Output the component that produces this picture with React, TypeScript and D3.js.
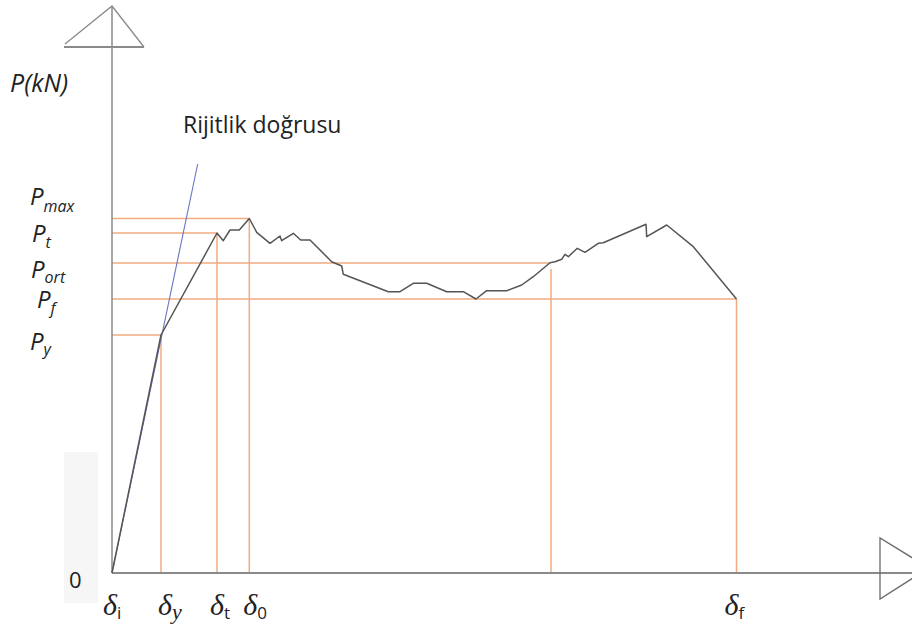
import React from "react";
import * as d3 from "d3";

// Load–displacement curve (displacement in mm, load in kN)
const curveDisp = [
  0, 4.9, 10.5, 11.13, 11.8, 12.73, 13.73, 14.47, 15.8, 16.8, 16.97, 18.13, 18.87, 19.8,
  21.97, 22.97, 23.13, 27.63, 28.8, 30.13, 31.47, 33.47, 35.13, 36.4, 37.47, 39.47, 40.97,
  42.13, 43.8, 44.3, 44.97, 45.3, 45.63, 46.53, 47.3, 48.63, 49.13, 53.4, 53.47, 55.47,
  58.13, 62.45,
];
const curveLoad = [
  0, 23.8, 34.0, 33.23, 34.3, 34.3, 35.45, 34.07, 32.97, 33.7, 33.23, 33.97, 33.3, 33.3,
  31.13, 30.7, 29.87, 28.13, 28.13, 28.97, 28.97, 28.13, 28.13, 27.4, 28.23, 28.23, 28.8,
  29.63, 31.03, 31.13, 31.37, 31.87, 31.63, 32.47, 32.07, 32.97, 33.03, 34.87, 33.63, 34.8,
  32.63, 27.4,
];

// Characteristic load levels and where their guide lines end
const levelNames = ["max", "t", "ort", "f", "y"];
const levelLoads = [35.45, 34.0, 31.0, 27.4, 23.8];
const levelEndDisp = [13.73, 10.5, 43.8, 62.45, 4.9];

// Characteristic displacements and the load where their guide lines stop
const markerNames = ["i", "y", "t", "0", "f"];
const markerDisp = [0, 4.9, 10.5, 13.73, 62.45];
const markerTopLoad = [0, 23.8, 34.0, 35.45, 27.4];

// Extra guide at the mean-load crossing
const extraGuideDisp = [43.9];
const extraGuideTop = [30.4];

// Stiffness line end point
const stiffnessDisp = [0, 8.57];
const stiffnessLoad = [0, 40.9];

const W = 912;
const H = 631;

const x = d3.scaleLinear().domain([0, 80]).range([112, 912]);
const y = d3.scaleLinear().domain([0, 56.7]).range([573, 6]);

const AXIS = "#8a8a8a";
const GUIDE = "#f2ab80";
const CURVE = "#555555";
const BLUE = "#6b73c4";
const TEXT = "#222222";
const SANS = "'Open Sans', 'Noto Sans', sans-serif";
const SERIF = "'Liberation Serif', 'DejaVu Serif', serif";

// Label layout for the load levels (left column)
const levelLabelX = [30, 32, 31, 37, 30];
const levelLabelDy = [-13.5, 9, 15, 9, 15];
const levelSubDy = [7, 6, 5, 6, 5];

// Label layout for the displacement markers (below the axis)
const markerLabelDx = [-9, -3, -7, -6, -12];

export default function App() {
  const pts: [number, number][] = curveDisp.map((d, i) => [x(d), y(curveLoad[i])]);
  const line = d3.line<[number, number]>();
  const x0 = x(0);
  const y0 = y(0);
  const yTop = y(56.7);

  return (
    <svg
      width={W}
      height={H}
      style={{ position: "absolute", left: 0, top: 0, background: "#fff" }}
    >
      {/* backdrop behind the origin label */}
      <rect x={64} y={452} width={34} height={151} fill="#f6f6f6" />

      {/* horizontal guides */}
      {levelLoads.map((p, i) => (
        <line
          key={"h" + i}
          x1={x0}
          x2={x(levelEndDisp[i])}
          y1={y(p)}
          y2={y(p)}
          stroke={GUIDE}
          strokeWidth={1.5}
        />
      ))}
      {/* vertical guides */}
      {markerDisp.slice(1).map((d, i) => (
        <line
          key={"v" + i}
          x1={x(d)}
          x2={x(d)}
          y1={y(markerTopLoad[i + 1])}
          y2={y0}
          stroke={GUIDE}
          strokeWidth={1.5}
        />
      ))}
      {extraGuideDisp.map((d, i) => (
        <line
          key={"e" + i}
          x1={x(d)}
          x2={x(d)}
          y1={y(extraGuideTop[i])}
          y2={y0}
          stroke={GUIDE}
          strokeWidth={1.5}
        />
      ))}

      {/* axes */}
      <line x1={x0} x2={x0} y1={y0} y2={yTop} stroke={AXIS} strokeWidth={1.5} />
      <line x1={x0} x2={W} y1={y0} y2={y0} stroke={AXIS} strokeWidth={1.8} />
      {/* arrowhead on load axis */}
      <polyline
        points={`${x0 - 47},${yTop + 38} ${x0},${yTop} ${x0 + 32},${yTop + 41}`}
        fill="none"
        stroke={AXIS}
        strokeWidth={1.3}
      />
      <line x1={x0 - 48} x2={x0 + 32} y1={yTop + 41} y2={yTop + 41} stroke={AXIS} strokeWidth={2} />
      {/* arrowhead on displacement axis */}
      <polyline
        points={`${x(76.8) + 44},${y0 - 8} ${x(76.8)},${y0 - 35} ${x(76.8)},${y0 + 26} ${x(76.8) + 44},${y0 - 2}`}
        fill="none"
        stroke="#6a6a6a"
        strokeWidth={1.3}
      />

      {/* stiffness line */}
      <line
        x1={x(stiffnessDisp[0])}
        y1={y(stiffnessLoad[0])}
        x2={x(stiffnessDisp[1])}
        y2={y(stiffnessLoad[1])}
        stroke={BLUE}
        strokeWidth={1.1}
      />

      {/* load–displacement curve */}
      <path d={line(pts) || ""} fill="none" stroke={CURVE} strokeWidth={1.5} strokeLinejoin="round" />

      {/* titles */}
      <text x={10} y={92} fontFamily={SANS} fontStyle="italic" fontSize={25} fill={TEXT}>
        P(kN)
      </text>
      <text x={183} y={133} fontFamily={SANS} fontSize={23} fill={TEXT}>
        Rijitlik doğrusu
      </text>

      {/* load level labels */}
      {levelNames.map((n, i) => (
        <text
          key={"pl" + i}
          x={levelLabelX[i]}
          y={y(levelLoads[i]) + levelLabelDy[i]}
          fontFamily={SANS}
          fontStyle="italic"
          fontSize={24}
          fill={TEXT}
        >
          P
          <tspan fontSize={16} dy={levelSubDy[i]}>
            {n}
          </tspan>
        </text>
      ))}

      {/* origin */}
      <text x={69} y={588} fontFamily={SANS} fontSize={22} fill={TEXT}>
        0
      </text>

      {/* displacement labels */}
      {markerNames.map((n, i) => (
        <text
          key={"dl" + i}
          x={x(markerDisp[i]) + markerLabelDx[i]}
          y={615}
          fontFamily={SERIF}
          fontStyle="italic"
          fontSize={30}
          fill={TEXT}
        >
          δ
          <tspan
            fontFamily={n === "y" ? SERIF : SANS}
            fontStyle={n === "y" ? "italic" : "normal"}
            fontSize={n === "y" ? 22 : 17}
            dy={4}
          >
            {n}
          </tspan>
        </text>
      ))}
    </svg>
  );
}
